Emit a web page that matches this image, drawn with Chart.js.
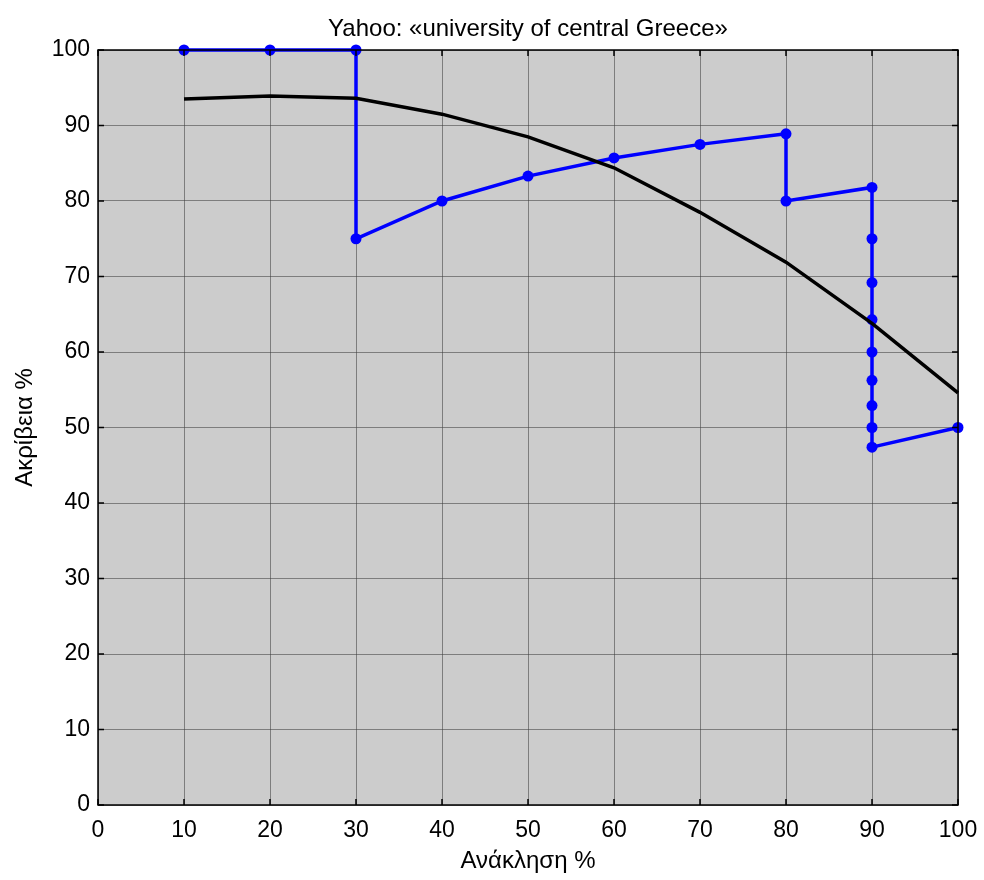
<!DOCTYPE html>
<html>
<head>
<meta charset="utf-8">
<script src="https://cdn.jsdelivr.net/npm/chart.js@4"></script>
<style>
  html, body { margin: 0; padding: 0; background: #fff; }
  #wrap { width: 984px; height: 880px; }
</style>
</head>
<body>
<div id="wrap"><canvas id="prChart" width="984" height="880"></canvas></div>
<script>
// recall / precision values
const blueRecall = [10, 20, 30, 30, 40, 50, 60, 70, 80, 80, 90, 90, 90, 90, 90, 90, 90, 90, 90, 100];
const bluePrecision = [100, 100, 100, 75, 80, 83.3, 85.7, 87.5, 88.9, 80, 81.8, 75, 69.2, 64.3, 60, 56.25, 52.9, 50, 47.4, 50];

const blackRecall = [10, 20, 30, 40, 50, 60, 70, 80, 90, 100];
const blackPrecision = [93.5, 93.9, 93.6, 91.5, 88.5, 84.4, 78.5, 71.9, 63.8, 54.6];

const axisTicks = [0, 10, 20, 30, 40, 50, 60, 70, 80, 90, 100];

const chartTitle = 'Yahoo: «university of central Greece»';
const xTitle = 'Ανάκληση %';
const yTitle = 'Ακρίβεια %';

const fontFamily = '"Liberation Sans", Arial, sans-serif';

function toPoints(xs, ys) {
    let out = [];
    for (let i = 0; i < xs.length; i++) {
        out.push({x: xs[i], y: ys[i]});
    }
    return out;
}

// grey plot background
const plotBackground = {
    id: 'plotBackground',
    beforeDraw(chart) {
        const {ctx, chartArea} = chart;
        ctx.save();
        ctx.fillStyle = '#cccccc';
        ctx.fillRect(chartArea.left, chartArea.top, chartArea.right - chartArea.left, chartArea.bottom - chartArea.top);
        ctx.restore();
    }
};

// small inward tick marks on all four sides, matlab style
const innerTicks = {
    id: 'innerTicks',
    afterDatasetsDraw(chart) {
        const {ctx, chartArea, scales} = chart;
        const len = 6;
        ctx.save();
        ctx.strokeStyle = '#000';
        ctx.lineWidth = 1.5;
        ctx.beginPath();
        for (const t of axisTicks) {
            const px = scales.x.getPixelForValue(t);
            ctx.moveTo(px, chartArea.bottom);
            ctx.lineTo(px, chartArea.bottom - len);
            ctx.moveTo(px, chartArea.top);
            ctx.lineTo(px, chartArea.top + len);
            const py = scales.y.getPixelForValue(t);
            ctx.moveTo(chartArea.left, py);
            ctx.lineTo(chartArea.left + len, py);
            ctx.moveTo(chartArea.right, py);
            ctx.lineTo(chartArea.right - len, py);
        }
        ctx.stroke();
        ctx.strokeRect(chartArea.left, chartArea.top, chartArea.right - chartArea.left, chartArea.bottom - chartArea.top);
        ctx.restore();
    }
};

const ctx = document.getElementById('prChart').getContext('2d');
const prChart = new Chart(ctx, {
    type: 'scatter',
    plugins: [plotBackground, innerTicks],
    data: {
        datasets: [
            {
                label: 'average',
                data: toPoints(blackRecall, blackPrecision),
                showLine: true,
                borderColor: '#000000',
                borderWidth: 3.5,
                pointRadius: 0,
                clip: false
            },
            {
                label: 'yahoo',
                data: toPoints(blueRecall, bluePrecision),
                showLine: true,
                borderColor: '#0000ff',
                backgroundColor: '#0000ff',
                borderWidth: 3.5,
                pointRadius: 5.5,
                pointBorderWidth: 0,
                clip: false
            }
        ]
    },
    options: {
        responsive: false,
        animation: false,
        layout: {
            padding: {top: 0, right: 26, bottom: 0, left: 0}
        },
        plugins: {
            legend: {display: false},
            tooltip: {enabled: false},
            title: {
                display: true,
                text: chartTitle,
                color: '#000',
                fullSize: false,
                font: {family: fontFamily, size: 24, weight: 'normal', lineHeight: 1.2},
                padding: {top: 14.6, bottom: 6.6}
            }
        },
        scales: {
            x: {
                type: 'linear',
                min: 0,
                max: 100,
                afterBuildTicks: (scale) => { scale.ticks = axisTicks.map(v => ({value: v})); },
                afterFit: (scale) => {
                    scale.height = 75;
                    // let the layout padding decide the right edge
                    scale.paddingLeft = 0;
                    scale.paddingRight = 0;
                },
                grid: {color: 'rgba(60,60,60,0.55)', lineWidth: 1, drawTicks: false},
                border: {display: false},
                ticks: {color: '#000', padding: 11.5, font: {family: fontFamily, size: 23}},
                title: {
                    display: true,
                    text: xTitle,
                    color: '#000',
                    font: {family: fontFamily, size: 24},
                    padding: {top: 0, bottom: 4.2}
                }
            },
            y: {
                type: 'linear',
                min: 0,
                max: 100,
                afterBuildTicks: (scale) => { scale.ticks = axisTicks.map(v => ({value: v})); },
                afterFit: (scale) => { scale.width = 98; },
                grid: {color: 'rgba(60,60,60,0.55)', lineWidth: 1, drawTicks: false},
                border: {display: false},
                ticks: {color: '#000', padding: 8, font: {family: fontFamily, size: 23}},
                title: {
                    display: true,
                    text: yTitle,
                    color: '#000',
                    font: {family: fontFamily, size: 24},
                    padding: {top: 10.6, bottom: 0}
                }
            }
        }
    }
});
</script>
</body>
</html>
